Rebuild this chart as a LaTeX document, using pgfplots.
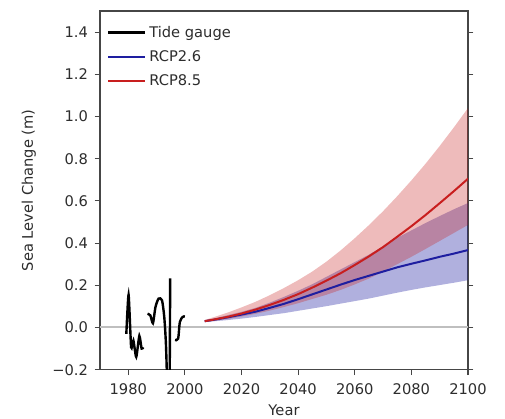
\documentclass[border=0pt]{standalone}
\usepackage{pgfplots}
\pgfplotsset{compat=1.18}
\usepackage{fontspec}
\setmainfont{DejaVu Sans}

\definecolor{rcpblue}{RGB}{30,30,160}
\definecolor{rcpred}{RGB}{200,30,30}
\definecolor{spine}{RGB}{70,70,70}
\definecolor{txt}{RGB}{45,45,45}

\begin{document}
\begin{tikzpicture}[font=\fontsize{11}{13}\selectfont]
\begin{axis}[
  name=main,
  width=276pt, height=269pt,
  scale only axis,
  xmin=1970, xmax=2100,
  ymin=-0.2, ymax=1.5,
  xtick={1980,2000,2020,2040,2060,2080,2100},
  xticklabels={1980,2000,2020,2040,2060,2080,2100},
  ytick={-0.2,0,0.2,0.4,0.6,0.8,1.0,1.2,1.4},
  yticklabels={−0.2,0.0,0.2,0.4,0.6,0.8,1.0,1.2,1.4},
  xtick pos=bottom,
  ytick pos=both,
  tick align=outside,
  major tick length=4pt,
  tick style={spine, line width=0.8pt},
  axis line style={spine, line width=1.1pt},
  xticklabel style={yshift=-3pt, text=txt},
  yticklabel style={xshift=-1.5pt, text=txt},
  xlabel={Year},
  ylabel={Sea Level Change (m)},
  xlabel style={yshift=-1pt, text=txt},
  ylabel style={yshift=5.5pt, text=txt},
  legend cell align=left,
  legend style={draw=none, fill=none, at={(rel axis cs:0,1)}, anchor=north west,
    xshift=2pt, yshift=-7pt, row sep=4.5pt, text=txt,
    font=\fontsize{11}{13}\selectfont},
  legend image code/.code={\draw[#1] (0pt,0pt) -- (28pt,0pt);},
]
% zero line
\addplot [black!25, line width=1.5pt, forget plot] coordinates {(1970,0) (2100,0)};

% RCP2.6 band (upper forward, lower back)
\addplot [draw=none, fill=rcpblue, fill opacity=0.35, forget plot] coordinates {
  (2007,0.032) (2010,0.041) (2015,0.058) (2020,0.074) (2025,0.093) (2030,0.118)
  (2035,0.145) (2040,0.174) (2045,0.205) (2050,0.240) (2055,0.275) (2060,0.310)
  (2065,0.345) (2070,0.385) (2075,0.425) (2080,0.460) (2085,0.495) (2090,0.528)
  (2095,0.560) (2100,0.590)
  (2100,0.224) (2095,0.212) (2090,0.201) (2085,0.190) (2080,0.178) (2075,0.165)
  (2070,0.151) (2065,0.137) (2060,0.125) (2055,0.113) (2050,0.101) (2045,0.090)
  (2040,0.079) (2035,0.068) (2030,0.059) (2025,0.050) (2020,0.042) (2015,0.035)
  (2010,0.029) (2007,0.025)} -- cycle;

% RCP8.5 band
\addplot [draw=none, fill=rcpred, fill opacity=0.3, forget plot] coordinates {
  (2007,0.035) (2010,0.048) (2015,0.070) (2020,0.095) (2025,0.122) (2030,0.153)
  (2035,0.187) (2040,0.224) (2045,0.265) (2050,0.312) (2055,0.365) (2060,0.423)
  (2065,0.485) (2070,0.551) (2075,0.622) (2080,0.697) (2085,0.776) (2090,0.860)
  (2095,0.948) (2100,1.040)
  (2100,0.486) (2095,0.448) (2090,0.410) (2085,0.372) (2080,0.335) (2075,0.300)
  (2070,0.265) (2065,0.232) (2060,0.204) (2055,0.178) (2050,0.155) (2045,0.135)
  (2040,0.115) (2035,0.097) (2030,0.080) (2025,0.065) (2020,0.052) (2015,0.040)
  (2010,0.031) (2007,0.025)} -- cycle;

% tide gauge
\addplot [black, line width=1.8pt, smooth, tension=0.35] coordinates {
  (1979.3,-0.03) (1980.1,0.155) (1981.0,-0.094) (1981.8,-0.062) (1982.8,-0.14)
  (1983.9,-0.04) (1984.7,-0.10) (1985.3,-0.094)};
\addlegendentry{Tide gauge}
\addplot [rcpblue, line width=1.5pt] coordinates {
  (2007,0.030) (2010,0.036) (2015,0.048) (2020,0.061) (2025,0.075) (2030,0.093)
  (2035,0.112) (2040,0.134) (2045,0.157) (2050,0.180) (2055,0.203) (2060,0.225)
  (2065,0.245) (2070,0.265) (2075,0.285) (2080,0.302) (2085,0.318) (2090,0.335)
  (2095,0.350) (2100,0.367)};
\addlegendentry{RCP2.6}
\addplot [rcpred, line width=1.5pt] coordinates {
  (2007,0.030) (2010,0.037) (2015,0.050) (2020,0.066) (2025,0.085) (2030,0.107)
  (2035,0.131) (2040,0.158) (2045,0.189) (2050,0.222) (2055,0.257) (2060,0.296)
  (2065,0.337) (2070,0.381) (2075,0.430) (2080,0.480) (2085,0.533) (2090,0.589)
  (2095,0.646) (2100,0.705)};
\addlegendentry{RCP8.5}

\addplot [black, line width=1.8pt, smooth, tension=0.4, forget plot] coordinates {
  (1986.8,0.065) (1987.8,0.057) (1988.7,0.02) (1989.6,0.097) (1990.7,0.137)
  (1991.9,0.129) (1992.7,0.05) (1993.3,-0.08) (1993.8,-0.30)};
\addplot [black, line width=1.8pt, forget plot] coordinates {
  (1993.8,-0.30) (1994.6,-0.30) (1994.8,0.233)};
\addplot [black, line width=1.8pt, smooth, tension=0.5, forget plot] coordinates {
  (1996.5,-0.059) (1997.6,-0.053) (1998.2,0.025) (1999.2,0.05) (2000.0,0.052)};
\end{axis}
\pgfresetboundingbox
\path ([xshift=-75pt, yshift=-36.75pt]main.south west) rectangle ([xshift=27.75pt, yshift=8.25pt]main.north east);
\end{tikzpicture}
\end{document}
